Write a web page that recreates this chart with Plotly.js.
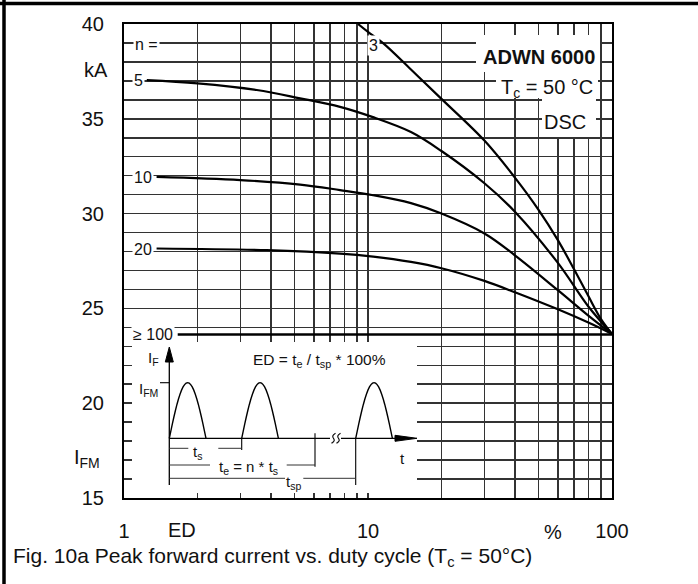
<!DOCTYPE html>
<html>
<head>
<meta charset="utf-8">
<script src="https://cdn.plot.ly/plotly-3.0.1.min.js"></script>
<style>
  html, body { margin: 0; padding: 0; background: #fff; }
  #chart { width: 698px; height: 584px; }
</style>
</head>
<body>
<div id="chart"></div>
<script>
// Peak forward current I_FM (kA) against duty cycle ED (%) for n pulses per burst
const dutyN3 = [9.1, 10, 11.56, 15, 20, 30, 40, 50, 60, 70, 80, 90, 100];
const ifmN3  = [40.0, 39.58, 38.98, 37.6, 36.05, 33.85, 31.9, 30.2, 28.6, 27.05, 25.65, 24.45, 23.65];

const dutyN5 = [1.24, 2, 3.5, 5.27, 7.68, 10.4, 15, 20, 30, 40, 60, 80, 100];
const ifmN5  = [37.04, 36.87, 36.52, 36.08, 35.63, 35.1, 34.3, 33.3, 31.6, 30.1, 27.4, 25.1, 23.65];

const dutyN10 = [1.36, 3, 5.27, 7.68, 10.5, 15, 20, 30, 40, 60, 80, 100];
const ifmN10  = [31.94, 31.77, 31.53, 31.24, 30.97, 30.55, 30.0, 28.95, 27.8, 25.96, 24.62, 23.65];

const dutyN20 = [1.36, 3.84, 7.68, 10.5, 15, 20, 30, 40, 60, 80, 100];
const ifmN20  = [28.16, 28.07, 27.89, 27.73, 27.45, 27.12, 26.45, 25.85, 24.95, 24.25, 23.65];

const dutyN100 = [1.66, 100];
const ifmN100  = [23.62, 23.62];

const yTickVals = [15, 20, 25, 30, 35, 40];
const yMinorVals = [16,17,18,19,21,22,23,24,26,27,28,29,31,32,33,34,36,37,38,39];
const xTickVals = [1, 10, 100];
const xTickText = ['1', '10', '100'];
const xMinorVals = [2,3,4,5,6,7,8,9,20,30,40,50,60,70,80,90];

// ---- layout geometry (pixels) ----
const FIG_W = 698, FIG_H = 584;
const L = 124, T = 24, W = 488, H = 474;
const px = x => (x - L) / W;
const py = y => (T + H - y) / H;

const FONT = 'Liberation Sans, Arial, Helvetica, sans-serif';
const INK = '#111';
const GRID = '#333';

const curveLine = { color: '#000', width: 2.2, shape: 'spline', smoothing: 1 };
const mk = (x, y, name) => ({ x, y, name, type: 'scatter', mode: 'lines', line: curveLine, hoverinfo: 'skip' });

const traces = [
  mk(dutyN3, ifmN3, 'n = 3'),
  mk(dutyN5, ifmN5, 'n = 5'),
  mk(dutyN10, ifmN10, 'n = 10'),
  mk(dutyN20, ifmN20, 'n = 20'),
  Object.assign(mk(dutyN100, ifmN100, 'n ≥ 100'), { line: { color: '#000', width: 2.4 } })
];

const shapes = [];
const annotations = [];

function txt(text, x, y, size, opts) {
  annotations.push(Object.assign({
    text, x: px(x), y: py(y), xref: 'paper', yref: 'paper',
    showarrow: false, xanchor: 'center', yanchor: 'middle',
    font: { family: FONT, size, color: INK }
  }, opts || {}));
}
function whiteBox(x0, y0, x1, y1) {
  shapes.push({ type: 'rect', xref: 'paper', yref: 'paper',
    x0: px(x0), x1: px(x1), y0: py(y1), y1: py(y0),
    fillcolor: '#fff', line: { width: 0 }, layer: 'above' });
}
function seg(x0, y0, x1, y1, w, c) {
  shapes.push({ type: 'line', xref: 'paper', yref: 'paper',
    x0: px(x0), y0: py(y0), x1: px(x1), y1: py(y1),
    line: { color: c || '#000', width: w || 1.3 }, layer: 'above' });
}
function pathOf(pts, close) {
  return pts.map((p, i) => (i ? 'L' : 'M') + px(p[0]) + ',' + py(p[1])).join(' ') + (close ? ' Z' : '');
}

// outer frame (top and left edges)
seg(-10, 3.5, FIG_W + 10, 3.5, 3.5, '#000');
seg(4, 0, 4, FIG_H + 10, 3.5, '#000');

// axis labels outside the plot
txt('kA', 96, 70, 20);
txt('I<sub>FM</sub>', 87, 458, 20);
txt('ED', 182, 530, 20);
txt('%', 553, 532, 20);
txt('Fig. 10a Peak forward current vs. duty cycle (T<sub>c</sub> = 50°C)', 11, 557, 21, { xanchor: 'left' });

// curve labels
const lab = { bgcolor: '#fff', borderpad: 1 };
txt('n =', 146, 44, 16, lab);
txt('5', 138, 80, 16, lab);
txt('10', 143, 177, 16, lab);
txt('20', 143, 249, 16, lab);
txt('≥ 100', 153, 334, 16, lab);
txt('3', 373, 46, 16, lab);

// device info block
whiteBox(476, 35, 600, 72);
whiteBox(496, 72, 598, 98);
whiteBox(542, 97, 596, 137);
txt('<b>ADWN 6000</b>', 539, 57, 20);
txt('T<sub>c</sub> = 50 °C', 547, 88, 20);
txt('DSC', 565, 122, 20);

// ---- pulse train schematic (local units: px from box left=132, bottom=493, y up) ----
const BX = 132, BY = 493;
const ix = u => BX + u;
const iy = v => BY - v;
whiteBox(132, 342, 417, 493);
const lseg = (u0, v0, u1, v1, w, c) => seg(ix(u0), iy(v0), ix(u1), iy(v1), w, c);

const AX_U = 37.3, BASE_V = 54.7, PEAK_V = 110.3;
// current axis with arrow
lseg(AX_U, 8, AX_U, 134, 1.3);
shapes.push({ type: 'path', xref: 'paper', yref: 'paper', layer: 'above',
  path: pathOf([[ix(AX_U), iy(146)], [ix(AX_U - 4), iy(131)], [ix(AX_U + 4), iy(131)]], true),
  fillcolor: '#000', line: { color: '#000', width: 1 } });
// time axis with arrow
lseg(AX_U, BASE_V, 264, BASE_V, 1.3);
shapes.push({ type: 'path', xref: 'paper', yref: 'paper', layer: 'above',
  path: pathOf([[ix(285), iy(BASE_V)], [ix(263), iy(BASE_V + 3)], [ix(263), iy(BASE_V - 3)]], true),
  fillcolor: '#000', line: { color: '#000', width: 1 } });
// break mark on time axis
shapes.push({ type: 'rect', xref: 'paper', yref: 'paper', layer: 'above',
  x0: px(ix(198)), x1: px(ix(209)), y0: py(iy(BASE_V - 2)), y1: py(iy(BASE_V + 2)),
  fillcolor: '#fff', line: { width: 0 } });
[199.5, 204.5].forEach(u => {
  const pts = [];
  for (let k = 0; k <= 12; k++) {
    const t = k / 12;
    pts.push([ix(u + 4 * t + 1.6 * Math.sin(2 * Math.PI * t)), iy(BASE_V - 5 + 10 * t)]);
  }
  shapes.push({ type: 'path', xref: 'paper', yref: 'paper', layer: 'above',
    path: pathOf(pts), line: { color: '#000', width: 1.1 } });
});
// half-sine current pulses
const PULSE_W = 36.7;
[AX_U, 109.7, 223.7].forEach(u0 => {
  const pts = [];
  for (let k = 0; k <= 24; k++) {
    const t = k / 24;
    pts.push([ix(u0 + PULSE_W * t), iy(BASE_V + (PEAK_V - BASE_V) * Math.sin(Math.PI * t))]);
  }
  shapes.push({ type: 'path', xref: 'paper', yref: 'paper', layer: 'above',
    path: pathOf(pts), line: { color: '#000', width: 1.4 } });
});
// I_FM level tick
lseg(28, PEAK_V, AX_U, PEAK_V, 1.1);
// time markers
lseg(109.7, BASE_V, 109.7, 43, 1.1);
lseg(183, 59.7, 183, 26.3, 1.1);
lseg(223.7, BASE_V, 223.7, 8, 1.1);
// dimension lines
lseg(AX_U, 44.7, 56.3, 44.7, 1, '#333');
lseg(86.3, 44.7, 109.7, 44.7, 1, '#333');
lseg(AX_U, 28, 78, 28, 1, '#333');
lseg(154.7, 28, 183, 28, 1, '#333');
lseg(AX_U, 14.7, 153, 14.7, 1, '#333');
lseg(171.3, 14.7, 223.7, 14.7, 1, '#333');
// schematic text
txt('I<sub>F</sub>', ix(21), iy(135), 15);
txt('I<sub>FM</sub>', ix(16), iy(104), 15);
txt('ED = t<sub>e</sub> / t<sub>sp</sub> * 100%', ix(187), iy(132.3), 15.5);
txt('t<sub>s</sub>', ix(65), iy(40), 15);
txt('t<sub>e</sub> = n * t<sub>s</sub>', ix(116), iy(26), 15);
txt('t<sub>sp</sub>', ix(161), iy(11), 15);
txt('t', ix(270), iy(35), 15);

const layout = {
  width: FIG_W, height: FIG_H,
  margin: { l: L, r: FIG_W - L - W, t: T, b: FIG_H - T - H, pad: 0 },
  paper_bgcolor: '#fff', plot_bgcolor: '#fff',
  showlegend: false,
  font: { family: FONT, size: 20, color: INK },
  xaxis: {
    type: 'log', range: [0, 2],
    tickmode: 'array', tickvals: xTickVals, ticktext: xTickText,
    ticks: '', ticklabelstandoff: 14,
    showgrid: true, gridcolor: GRID, gridwidth: 1.5,
    minor: { tickmode: 'array', tickvals: xMinorVals, showgrid: true, gridcolor: GRID, gridwidth: 1.5, ticks: '' },
    showline: true, mirror: true, linecolor: '#000', linewidth: 2,
    zeroline: false, tickfont: { family: FONT, size: 20, color: INK }
  },
  yaxis: {
    range: [15, 40],
    tickmode: 'array', tickvals: yTickVals,
    ticks: '', ticklabelstandoff: 14,
    showgrid: true, gridcolor: GRID, gridwidth: 1.5,
    minor: { tickmode: 'array', tickvals: yMinorVals, showgrid: true, gridcolor: GRID, gridwidth: 1.5, ticks: '' },
    showline: true, mirror: true, linecolor: '#000', linewidth: 2,
    zeroline: false, tickfont: { family: FONT, size: 20, color: INK }
  },
  shapes, annotations
};

Plotly.newPlot('chart', traces, layout, { staticPlot: true, displayModeBar: false });
</script>
</body>
</html>
